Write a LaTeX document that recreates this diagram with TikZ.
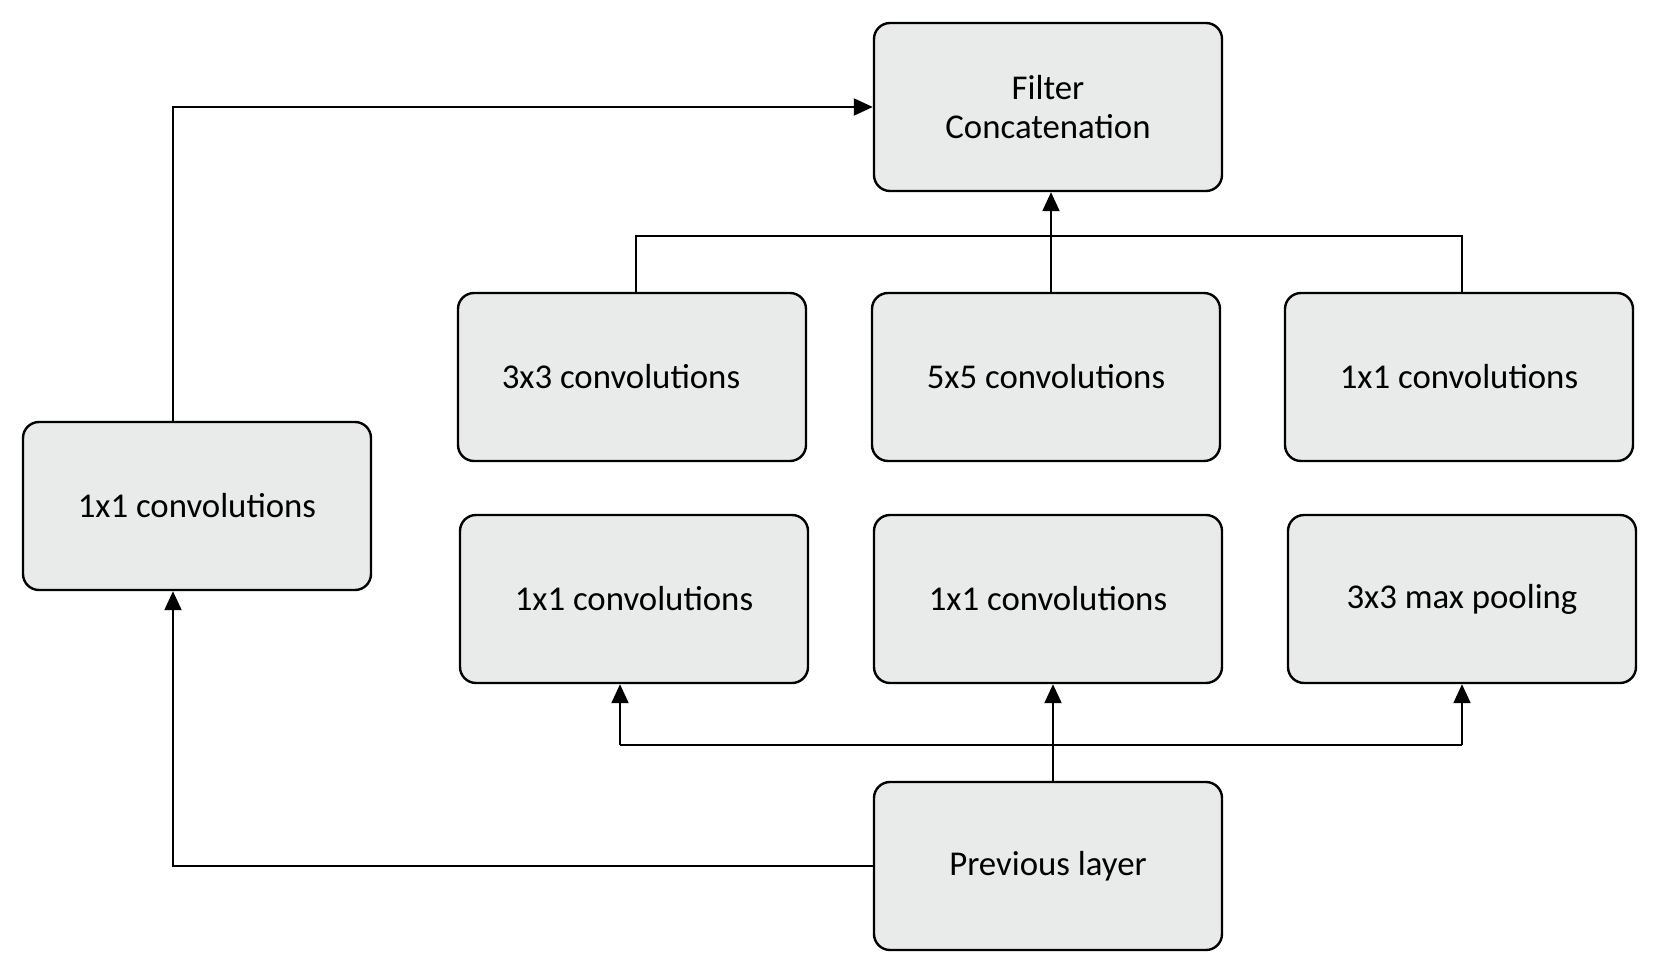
\documentclass[tikz,border=0pt]{standalone}
\usepackage{fontspec}
\setmainfont{Carlito}
\usetikzlibrary{arrows.meta}
\definecolor{boxfill}{RGB}{233,234,234}
\tikzset{
  blk/.style={draw=black, line width=1.2pt, fill=boxfill, rounded corners=8pt,
    minimum width=174pt, minimum height=84pt, inner sep=0pt, align=center,
    font=\fontsize{17.4}{19.5}\selectfont},
  link/.style={draw=black, line width=1pt},
  arr/.style={link, -{Triangle[length=9.5pt,width=8.5pt]}}
}
\begin{document}
\begin{tikzpicture}[x=0.5pt,y=-0.5pt]
\useasboundingbox (0,0) rectangle (1659,973);
\node[blk] (filt) at (1048,107) {Filter\\Concatenation};
\node[blk] (c33) at (632,377) {3x3 convolutions\hspace*{11pt}};
\node[blk] (c55) at (1046,377) {5x5 convolutions};
\node[blk] (c11r) at (1459,377) {1x1 convolutions};
\node[blk] (c11l) at (197,506) {1x1 convolutions};
\node[blk] (r1) at (634,599) {1x1 convolutions};
\node[blk] (m1) at (1048,599) {1x1 convolutions};
\node[blk] (mp) at (1462,599) {3x3 max pooling};
\node[blk] (prev) at (1048,866) {Previous layer};
\coordinate (mergeT) at (1050,236);
\coordinate (mergeB) at (1052,745);
% left branch
\draw[arr] ([xshift=-12pt]c11l.north) |- (filt.west);
\draw[arr] (prev.west) -| ([xshift=-12pt]c11l.south);
% top merge
\draw[link] ([xshift=2pt]c33.north) |- ([xshift=1.5pt]c11r.north |- mergeT) -- ([xshift=1.5pt]c11r.north);
\draw[arr] ([xshift=2.5pt]c55.north) -- ([xshift=2.5pt]c55.north |- filt.south);
% bottom split
\draw[arr] ([xshift=2.5pt]prev.north) -- ([xshift=2.5pt]m1.south);
\draw[link] ([xshift=-7pt]r1.south |- mergeB) -- (mp.south |- mergeB);
\draw[arr] ([xshift=-7pt]r1.south |- mergeB) -- ([xshift=-7pt]r1.south);
\draw[arr] (mp.south |- mergeB) -- (mp.south);
\end{tikzpicture}
\end{document}
